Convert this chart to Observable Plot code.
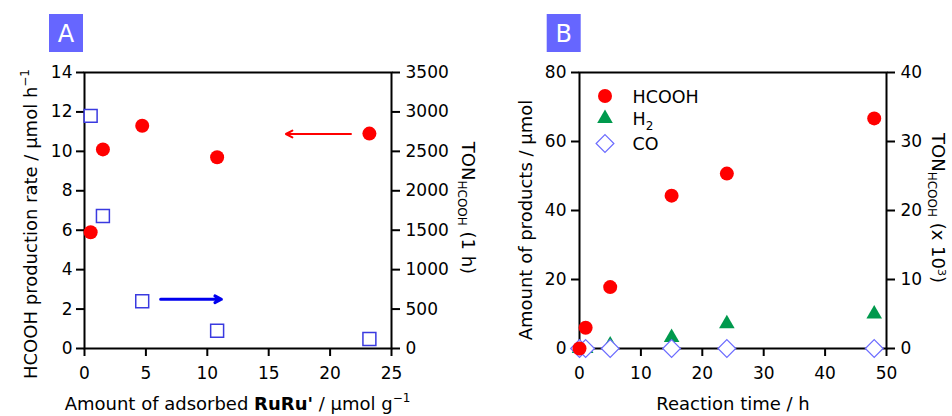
<!DOCTYPE html>
<html><head><meta charset="utf-8">
<script src="https://cdn.jsdelivr.net/npm/d3@7"></script>
<script src="https://cdn.jsdelivr.net/npm/@observablehq/plot@0.6"></script>
<style>
body{margin:0;background:#fff}
#wrap{position:relative;width:952px;height:416px;overflow:hidden;background:#fff}
#wrap svg{position:absolute;top:0}
</style>
</head><body><div id="wrap"></div>
<script>
// ---------- Panel A data ----------
const aAmount = [0.5, 1.5, 4.7, 10.8, 23.2];          // µmol g-1
const aRate   = [5.9, 10.1, 11.3, 9.7, 10.9];          // µmol h-1 (left axis)
const aTON    = [2950, 1680, 600, 225, 120];           // TON (1 h) (right axis)
const aXTicks = [0, 5, 10, 15, 20, 25];
const aYTicks = [0, 2, 4, 6, 8, 10, 12, 14];
const aTONTicks = [0, 500, 1000, 1500, 2000, 2500, 3000, 3500];
const aTONFactor = 250; // 3500 TON <-> 14 µmol h-1
const aArrows = [
  {x1: 21.7, x2: 16.4, y: 10.88, color: "#ff0000", w: 2},
  {x1: 6.2, x2: 11.15, y: 2.5, color: "#0000ee", w: 3}
];

// ---------- Panel B data ----------
const bTime   = [0, 1, 5, 15, 24, 48];
const bHCOOH  = [0, 6, 17.8, 44.3, 50.7, 66.7];
const bH2     = [0, 0, 1.0, 3.2, 7.2, 10.0];
const bCO     = [0, 0, 0, 0, 0, 0];
const bXTicks = [0, 10, 20, 30, 40, 50];
const bYTicks = [0, 20, 40, 60, 80];
const bTONTicks = [0, 10, 20, 30, 40];
const bTONFactor = 0.5; // 40 TON(x10^3) <-> 80 µmol
const bSeries = ["HCOOH", "H2", "CO"];

const FONT = "DejaVu Sans, Verdana, sans-serif";
const RED = "#ff0000", GREEN = "#00994d", SQ = "#3a3ae0", DIA = "#6b6bff", BADGE = "#6666ff";

const wrap = document.getElementById("wrap");
const baseStyle = {fontFamily: FONT, fontSize: "17px", color: "black", background: "transparent", overflow: "visible"};

// ---------- Panel A ----------
const ia = d3.range(aAmount.length);
const plotA = Plot.plot({
  width: 476, height: 416,
  marginLeft: 84, marginRight: 85, marginTop: 72, marginBottom: 68,
  style: baseStyle,
  x: {domain: [0, 25]},
  y: {domain: [0, 14]},
  marks: [
    Plot.frame({stroke: "black", strokeWidth: 2}),
    Plot.axisX({ticks: aXTicks, tickSize: 8, tickPadding: 10, strokeWidth: 2, label: null}),
    Plot.axisY({ticks: aYTicks, tickSize: 8, tickPadding: 4, strokeWidth: 2, label: null}),
    Plot.axisY(aTONTicks.map(v => v / aTONFactor), {anchor: "right", tickSize: 8, tickPadding: 6, strokeWidth: 2, label: null,
      tickFormat: d => String(Math.round(d * aTONFactor))}),
    Plot.dot(ia, {x: i => aAmount[i], y: i => aTON[i] / aTONFactor, symbol: "square", r: 7.3, stroke: SQ, strokeWidth: 1.5, fill: "white"}),
    Plot.dot(ia, {x: i => aAmount[i], y: i => aRate[i], symbol: "circle", r: 7, fill: RED, stroke: "none"}),
    Plot.arrow(aArrows, {x1: "x1", x2: "x2", y1: "y", y2: "y", stroke: "color", strokeWidth: "w", headLength: 11, headAngle: 55})
  ]
});
plotA.style.left = "0px";
wrap.appendChild(plotA);

// ---------- Panel B ----------
const ib = d3.range(bTime.length);
const plotB = Plot.plot({
  width: 476, height: 416,
  marginLeft: 103, marginRight: 66, marginTop: 72, marginBottom: 68,
  style: baseStyle,
  x: {domain: [0, 50]},
  y: {domain: [0, 80]},
  marks: [
    Plot.frame({stroke: "black", strokeWidth: 2}),
    Plot.axisX({ticks: bXTicks, tickSize: 8, tickPadding: 10, strokeWidth: 2, label: null}),
    Plot.axisY({ticks: bYTicks, tickSize: 8, tickPadding: 5, strokeWidth: 2, label: null}),
    Plot.axisY(bTONTicks.map(v => v / bTONFactor), {anchor: "right", tickSize: 8, tickPadding: 6, strokeWidth: 2, label: null,
      tickFormat: d => String(Math.round(d * bTONFactor))}),
    Plot.dot(ib, {x: i => bTime[i], y: i => bH2[i], symbol: "triangle", r: 5.8, fill: GREEN, stroke: "none"}),
    Plot.dot(ib, {x: i => bTime[i], y: i => bCO[i], symbol: "diamond2", r: 8, stroke: DIA, strokeWidth: 1.2, fill: "white"}),
    Plot.dot(ib, {x: i => bTime[i], y: i => bHCOOH[i], symbol: "circle", r: 7, fill: RED, stroke: "none"})
  ]
});
plotB.style.left = "476px";
wrap.appendChild(plotB);

// ---------- Text overlays ----------
function badge(svg, x, y, label) {
  const g = d3.select(svg).append("g");
  g.append("rect").attr("x", x).attr("y", y).attr("width", 34).attr("height", 38).attr("fill", BADGE);
  g.append("text").attr("x", x + 17).attr("y", y + 28).attr("text-anchor", "middle")
    .attr("fill", "white").attr("font-size", 24).attr("font-family", FONT).text(label);
}
function rich(svg, transform, anchor, parts, size) {
  const t = d3.select(svg).append("text").attr("transform", transform).attr("text-anchor", anchor)
    .attr("font-family", FONT).attr("font-size", size).attr("fill", "black");
  for (const p of parts) {
    const s = t.append("tspan").text(p.t);
    if (p.size) s.attr("font-size", p.size);
    if (p.dy) s.attr("dy", p.dy);
    if (p.bold) s.attr("font-weight", "bold");
  }
  return t;
}

// Panel A
badge(plotA, 49, 14, "A");
rich(plotA, "translate(37,224) rotate(-90)", "middle",
  [{t: "HCOOH production rate / μmol h"}, {t: "−1", size: 12, dy: -8}], 18);
rich(plotA, "translate(237.5,410)", "middle",
  [{t: "Amount of adsorbed "}, {t: "RuRu'", bold: true}, {t: " / μmol g"}, {t: "−1", size: 12, dy: -8}], 18);
rich(plotA, "translate(462,208) rotate(90)", "middle",
  [{t: "TON"}, {t: "HCOOH", size: 12, dy: 4}, {t: " (1 h)", dy: -4}], 18);

// Panel B
badge(plotB, 70.7, 14, "B");
rich(plotB, "translate(56,220) rotate(-90)", "middle",
  [{t: "Amount of products / μmol"}], 18);
rich(plotB, "translate(257,410)", "middle",
  [{t: "Reaction time / h"}], 18);
rich(plotB, "translate(456,208) rotate(90)", "middle",
  [{t: "TON"}, {t: "HCOOH", size: 12, dy: 4}, {t: " (x 10", dy: -4}, {t: "3", size: 11, dy: -6}, {t: ")", dy: 6}], 18);

// Legend (panel B)
const lg = d3.select(plotB).append("g").attr("font-family", FONT).attr("font-size", 17.5).attr("text-anchor", "start");
const legendSym = {
  HCOOH: {type: d3.symbolCircle, size: Math.PI * 49, fill: RED, stroke: "none", cy: 96},
  H2: {type: d3.symbolTriangle, size: Math.PI * 5.8 * 5.8, fill: GREEN, stroke: "none", cy: 118.5},
  CO: {type: d3.symbolDiamond2, size: Math.PI * 64, fill: "white", stroke: DIA, cy: 143.5}
};
bSeries.forEach(name => {
  const s = legendSym[name];
  lg.append("path").attr("d", d3.symbol(s.type, s.size)()).attr("transform", `translate(129,${s.cy})`)
    .attr("fill", s.fill).attr("stroke", s.stroke).attr("stroke-width", 1.2);
  const t = lg.append("text").attr("x", 156.5).attr("y", s.cy + 6.5).attr("text-anchor", "start");
  if (name === "H2") { t.append("tspan").text("H"); t.append("tspan").attr("font-size", 12).attr("dy", 5).text("2"); }
  else t.text(name);
});
</script></body></html>
